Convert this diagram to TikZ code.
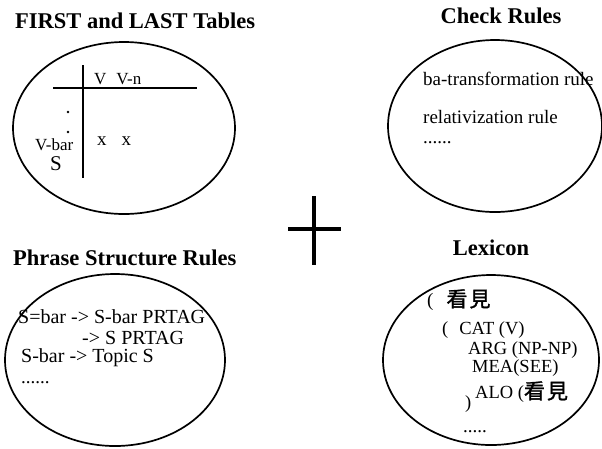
\documentclass[tikz,border=0pt]{standalone}
\usepackage{fontspec}
\setmainfont{Liberation Serif}
\newfontfamily\cjk[FakeBold=1.5]{Noto Sans CJK TC}
\begin{document}
\begin{tikzpicture}[x=1pt, y=-1pt,
    ttl/.style={font=\bfseries\fontsize{22.5}{22.5}\selectfont, inner sep=0pt},
    txt/.style={font=\fontsize{19}{19}\selectfont, inner sep=0pt, anchor=west},
    rim/.style={line width=1.7pt}]
        \useasboundingbox (0,0) rectangle (602,448);
        % FIRST and LAST
        \node[ttl, anchor=west] (tfirst) at (15,21) {FIRST and LAST Tables};
        \draw[rim] (124,128) ellipse [x radius=111, y radius=86];
        \draw[line width=2pt] (83,65) -- (83,178);
        \draw[line width=2pt] (53,88) -- (197,88);
        \node[txt, font=\fontsize{17}{17}\selectfont] (colv) at (94,79) {V\hspace{10pt}V-n};
        \node[txt, font=\fontsize{17}{17}\selectfont] (rowvbar) at (35,145) {V-bar};
        \node[txt, font=\fontsize{21}{21}\selectfont] (rows) at (50,164) {S};
        \fill (68,112) circle (1.3pt);
        \fill (68,132) circle (1.3pt);
        \node[txt, font=\fontsize{19}{19}\selectfont] (cellx) at (97,141) {x\hspace{15pt}x};
        % Check Rules
        \node[ttl] (tcheck) at (501,16) {Check Rules};
        \draw[rim] (495,126) ellipse [x radius=107, y radius=86];
        \node[txt] (ruleba) at (423,79) {ba-transformation rule};
        \node[txt] (rulerel) at (423,117) {relativization rule};
        \node[txt] (ruledots) at (423,143) {......};
        % Plus
        \draw[line width=3.5pt] (314,196) -- (314,265);
        \draw[line width=3.5pt] (288,229) -- (341,229);
        % Phrase Structure Rules
        \node[ttl, anchor=west] (tphrase) at (13,258) {Phrase Structure Rules};
        \draw[rim] (115,360) ellipse [x radius=110, y radius=86];
        \node[txt, font=\fontsize{20}{20}\selectfont] (psra) at (18,317) {S=bar -> S-bar PRTAG};
        \node[txt, font=\fontsize{20}{20}\selectfont] (psrb) at (82,338) {-> S PRTAG};
        \node[txt, font=\fontsize{20}{20}\selectfont] (psrc) at (21,358) {S-bar -> Topic S};
        \node[txt] (psrdots) at (21,383) {......};
        % Lexicon
        \node[ttl] (tlex) at (491,248) {Lexicon};
        \draw[rim] (491,360) ellipse [x radius=108, y radius=85];
        \node[txt] (lexhead) at (427,300) {(\hspace{13pt}{\cjk\fontsize{21}{21}\selectfont 看\hspace{2pt}見}};
        \node[txt, font=\fontsize{18.5}{18.5}\selectfont] (lexcat) at (442,330) {(\hspace{11pt}CAT (V)};
        \node[txt, font=\fontsize{18.5}{18.5}\selectfont] (lexarg) at (468,350) {ARG (NP-NP)};
        \node[txt, font=\fontsize{18.5}{18.5}\selectfont] (lexmea) at (472,368) {MEA(SEE)};
        \node[txt, font=\fontsize{18.5}{18.5}\selectfont] (lexalo) at (475,392) {ALO ({\cjk\fontsize{21}{21}\selectfont 看\hspace{2pt}見}};
        \node[txt, font=\fontsize{18.5}{18.5}\selectfont] (lexclose) at (465,404) {)};
        \node[txt] (lexdots) at (463,432) {.....};
    \end{tikzpicture}
\end{document}
